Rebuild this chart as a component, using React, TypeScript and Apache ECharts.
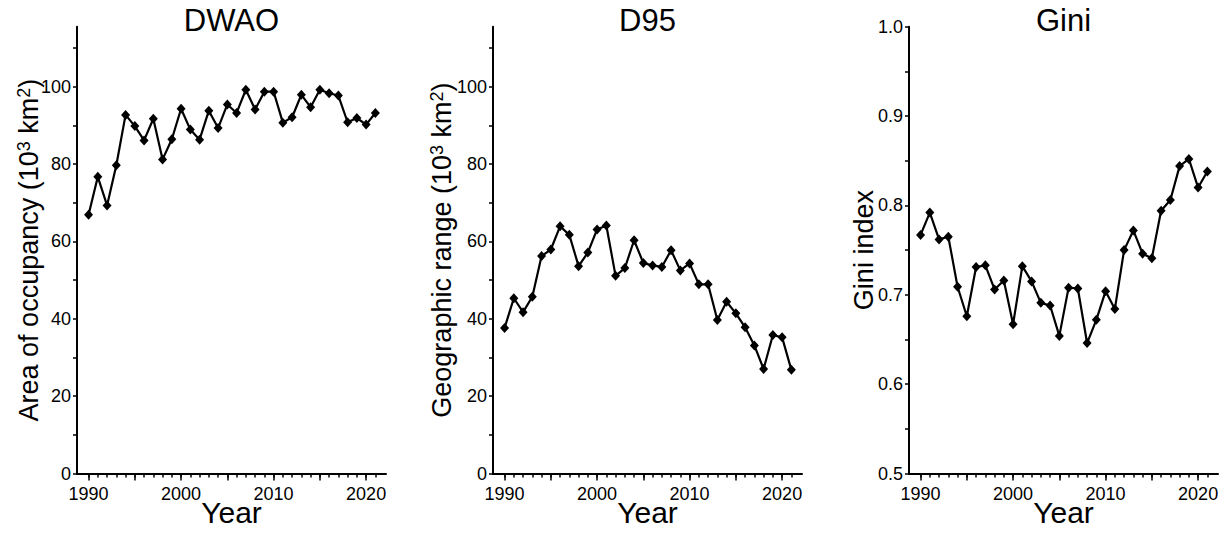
import React, { useEffect, useRef } from "react";
import * as echarts from "echarts";

const years = [1990, 1991, 1992, 1993, 1994, 1995, 1996, 1997, 1998, 1999, 2000, 2001, 2002, 2003, 2004, 2005, 2006, 2007, 2008, 2009, 2010, 2011, 2012, 2013, 2014, 2015, 2016, 2017, 2018, 2019, 2020, 2021];
const dwao = [66.9, 76.7, 69.3, 79.7, 92.7, 89.8, 86.1, 91.7, 81.2, 86.4, 94.3, 88.9, 86.3, 93.8, 89.3, 95.4, 93.2, 99.2, 94.1, 98.7, 98.7, 90.7, 92.1, 97.9, 94.7, 99.2, 98.3, 97.7, 90.8, 91.9, 90.2, 93.2];
const d95 = [37.6, 45.3, 41.7, 45.7, 56.2, 57.9, 63.9, 61.7, 53.6, 57.1, 63.1, 64.1, 51.1, 53.1, 60.3, 54.4, 53.8, 53.4, 57.7, 52.5, 54.3, 48.9, 48.9, 39.7, 44.4, 41.4, 37.8, 33.1, 27.0, 35.8, 35.2, 26.8];
const gini = [0.767, 0.792, 0.762, 0.765, 0.709, 0.676, 0.731, 0.733, 0.706, 0.716, 0.667, 0.732, 0.715, 0.691, 0.688, 0.654, 0.708, 0.707, 0.646, 0.672, 0.704, 0.684, 0.750, 0.772, 0.746, 0.741, 0.794, 0.806, 0.844, 0.852, 0.820, 0.838];

const yearLabels = [1990, 2000, 2010, 2020];
const yearMajorTicks = [1990, 1995, 2000, 2005, 2010, 2015, 2020];
const areaLabels = [0, 20, 40, 60, 80, 100];
const areaTicks = [0, 10, 20, 30, 40, 50, 60, 70, 80, 90, 100, 110];
const giniLabels = [0.5, 0.6, 0.7, 0.8, 0.9, 1.0];
const giniTicks = [0.5, 0.55, 0.6, 0.65, 0.7, 0.75, 0.8, 0.85, 0.9, 0.95, 1.0];

const titles = ["DWAO", "D95", "Gini"];
const yNames = [
  "Area of occupancy (10{sup|3} km{sup|2})",
  "Geographic range (10{sup|3} km{sup|2})",
  "Gini index",
];

const FONT = "'Liberation Sans', Arial, Helvetica, sans-serif";

export default function App() {
  const ref = useRef<HTMLDivElement>(null);
  useEffect(() => {
    if (!ref.current) return;
    const chart = echarts.init(ref.current, undefined, { renderer: "svg" });
    const lefts = [77, 493, 909];
    const gw = 309;
    const top = 26.7;
    const gh = 446.8;
    const seriesData = [dwao, d95, gini];
    const yMin = [0, 0, 0.5];
    const yMax = [115.5, 115.5, 1.0];
    const yTicks = [areaTicks, areaTicks, giniTicks];
    const yLabels = [areaLabels, areaLabels, giniLabels];
    const nameGaps = [35, 38, 32];

    const grid = lefts.map((l) => ({
      left: l,
      top,
      width: gw,
      height: gh,
      containLabel: false,
      outerBoundsMode: "none",
    }));
    const xAxis: any[] = [];
    lefts.forEach((_, i) => {
      xAxis.push({
        type: "value",
        gridIndex: i,
        position: "bottom",
        min: 1988.75,
        max: 2022.15,
        axisLine: { show: true, onZero: false, lineStyle: { color: "#000", width: 2 } },
        axisTick: { show: true, customValues: yearMajorTicks, length: 7, lineStyle: { color: "#000", width: 1.5 } },
        axisLabel: {
          show: true,
          customValues: yearLabels,
          fontSize: 18,
          margin: 11,
          color: "#000",
          fontFamily: FONT,
          formatter: (v: number) => String(Math.round(v)),
        },
        splitLine: { show: false },
        name: "Year",
        nameLocation: "middle",
        nameGap: 24,
        nameMoveOverlap: false,
        nameTextStyle: { fontSize: 30, color: "#000", fontFamily: FONT },
      });
      xAxis.push({
        type: "value",
        gridIndex: i,
        position: "bottom",
        min: 1988.75,
        max: 2022.15,
        axisLine: { show: false, onZero: false },
        axisTick: { show: true, customValues: years, length: 4, lineStyle: { color: "#000", width: 1.5 } },
        axisLabel: { show: false },
        splitLine: { show: false },
      });
    });
    const yAxis = lefts.map((_, i) => ({
      type: "value",
      gridIndex: i,
      min: yMin[i],
      max: yMax[i],
      axisLine: { show: true, onZero: false, lineStyle: { color: "#000", width: 2 } },
      axisTick: { show: true, customValues: yTicks[i], length: 4, lineStyle: { color: "#000", width: 1.5 } },
      axisLabel: {
        show: true,
        customValues: yLabels[i],
        fontSize: 18,
        margin: 6,
        color: "#000",
        fontFamily: FONT,
        formatter: i === 2 ? (v: number) => v.toFixed(1) : (v: number) => String(Math.round(v)),
      },
      splitLine: { show: false },
      name: yNames[i],
      nameLocation: "middle",
      nameGap: nameGaps[i],
      nameMoveOverlap: false,
      nameTextStyle: {
        fontSize: 27,
        color: "#000",
        fontFamily: FONT,
        rich: { sup: { fontSize: 18, verticalAlign: "top", color: "#000", fontFamily: FONT } },
      },
    }));
    const series = seriesData.map((vals, i) => ({
      type: "line",
      xAxisIndex: i * 2,
      yAxisIndex: i,
      data: years.map((y, j) => [y, vals[j]]),
      symbol: "diamond",
      symbolSize: [9, 10],
      itemStyle: { color: "#000" },
      lineStyle: { color: "#000", width: 2.2 },
      emphasis: { disabled: true },
    }));
    const graphic = titles.map((t, i) => ({
      type: "text",
      x: lefts[i] + gw / 2,
      y: 20,
      style: { text: t, align: "center", verticalAlign: "middle", fontSize: 31, fill: "#000", fontFamily: FONT },
    }));
    chart.setOption({
      animation: false,
      backgroundColor: "#fff",
      grid,
      xAxis,
      yAxis,
      series,
      graphic,
    });
    return () => chart.dispose();
  }, []);
  return <div ref={ref} style={{ position: "fixed", left: 0, top: 0, width: 1228, height: 533 }} />;
}
